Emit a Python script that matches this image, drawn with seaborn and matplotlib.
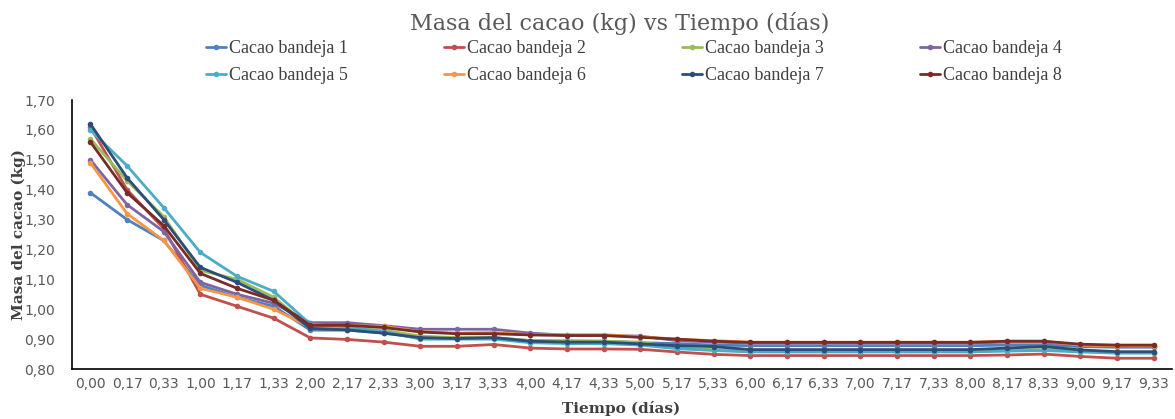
import matplotlib

matplotlib.use("Agg")
import matplotlib.pyplot as plt
import pandas as pd
import seaborn as sns
from matplotlib.ticker import FuncFormatter

sns.set_theme(style="white")

# --- data -----------------------------------------------------------------
tiempo = ["0,00", "0,17", "0,33", "1,00", "1,17", "1,33", "2,00", "2,17", "2,33",
          "3,00", "3,17", "3,33", "4,00", "4,17", "4,33", "5,00", "5,17", "5,33",
          "6,00", "6,17", "6,33", "7,00", "7,17", "7,33", "8,00", "8,17", "8,33",
          "9,00", "9,17", "9,33"]

bandeja_1 = [1.39, 1.30, 1.23, 1.08, 1.04, 1.01,
             0.930, 0.930, 0.920, 0.905, 0.905, 0.905, 0.895, 0.893, 0.893, 0.888,
             0.885, 0.880, 0.878, 0.878, 0.878, 0.878, 0.878, 0.878, 0.878,
             0.880, 0.880, 0.875, 0.873, 0.873]
bandeja_2 = [1.61, 1.40, 1.27, 1.05, 1.01, 0.97,
             0.904, 0.899, 0.890, 0.876, 0.876, 0.882, 0.870, 0.867, 0.867, 0.866,
             0.857, 0.849, 0.845, 0.845, 0.845, 0.845, 0.845, 0.845, 0.845,
             0.847, 0.850, 0.842, 0.836, 0.836]
bandeja_3 = [1.57, 1.43, 1.31, 1.13, 1.10, 1.04,
             0.940, 0.935, 0.930, 0.910, 0.905, 0.905, 0.895, 0.895, 0.893, 0.890,
             0.870, 0.865, 0.860, 0.860, 0.860, 0.860, 0.860, 0.860, 0.860,
             0.862, 0.865, 0.860, 0.855, 0.855]
bandeja_4 = [1.50, 1.35, 1.26, 1.09, 1.05, 1.02,
             0.955, 0.955, 0.945, 0.933, 0.933, 0.933, 0.920, 0.913, 0.912, 0.910,
             0.895, 0.890, 0.887, 0.887, 0.887, 0.887, 0.887, 0.887, 0.887,
             0.890, 0.890, 0.880, 0.878, 0.878]
bandeja_5 = [1.60, 1.48, 1.34, 1.19, 1.11, 1.06,
             0.950, 0.940, 0.925, 0.900, 0.900, 0.900, 0.888, 0.885, 0.885, 0.880,
             0.868, 0.862, 0.857, 0.857, 0.857, 0.857, 0.857, 0.857, 0.857,
             0.860, 0.862, 0.857, 0.853, 0.853]
bandeja_6 = [1.49, 1.32, 1.23, 1.07, 1.04, 1.00,
             0.940, 0.945, 0.943, 0.925, 0.920, 0.922, 0.915, 0.915, 0.915, 0.908,
             0.900, 0.895, 0.890, 0.890, 0.890, 0.890, 0.890, 0.890, 0.890,
             0.893, 0.893, 0.880, 0.878, 0.878]
bandeja_7 = [1.62, 1.44, 1.30, 1.14, 1.09, 1.03,
             0.936, 0.931, 0.920, 0.905, 0.902, 0.905, 0.893, 0.890, 0.890, 0.884,
             0.878, 0.875, 0.865, 0.865, 0.865, 0.865, 0.865, 0.865, 0.865,
             0.870, 0.875, 0.864, 0.858, 0.858]
bandeja_8 = [1.56, 1.39, 1.28, 1.12, 1.07, 1.03,
             0.946, 0.946, 0.939, 0.924, 0.918, 0.918, 0.914, 0.912, 0.912, 0.906,
             0.900, 0.893, 0.889, 0.889, 0.889, 0.889, 0.889, 0.889, 0.889,
             0.893, 0.893, 0.883, 0.880, 0.880]

series = {
    "Cacao bandeja 1": bandeja_1,
    "Cacao bandeja 2": bandeja_2,
    "Cacao bandeja 3": bandeja_3,
    "Cacao bandeja 4": bandeja_4,
    "Cacao bandeja 5": bandeja_5,
    "Cacao bandeja 6": bandeja_6,
    "Cacao bandeja 7": bandeja_7,
    "Cacao bandeja 8": bandeja_8,
}
colors = ["#4F81BD", "#C0504D", "#9BBB59", "#8064A2",
          "#4BACC6", "#F79646", "#2C4D75", "#772C2A"]

rows = []
for name, vals in series.items():
    for i, v in enumerate(vals):
        rows.append({"idx": i, "masa": v, "serie": name})
df = pd.DataFrame(rows)

# --- figure ---------------------------------------------------------------
fig = plt.figure(figsize=(11.75, 4.19), dpi=100)
ax = fig.add_axes([0.0613, 0.1193, 0.9362, 0.642])

sns.lineplot(data=df, x="idx", y="masa", hue="serie", palette=colors,
             marker="o", markersize=4, markeredgewidth=0, linewidth=2, ax=ax)

ax.set_xlim(-0.5, len(tiempo) - 0.5)
ax.set_ylim(0.80, 1.70)
ax.set_xticks(range(len(tiempo)))
ax.set_xticklabels(tiempo)
ax.set_yticks([0.8 + 0.1 * k for k in range(10)])
ax.yaxis.set_major_formatter(FuncFormatter(lambda v, p: f"{v:.2f}".replace(".", ",")))
ax.tick_params(axis="both", length=0, labelsize=10, labelcolor="#595959")
ax.tick_params(axis="x", pad=6)
ax.tick_params(axis="y", pad=12)
for lab in ax.get_xticklabels() + ax.get_yticklabels():
    lab.set_family("DejaVu Sans")

for side in ["top", "right"]:
    ax.spines[side].set_visible(False)
for side in ["left", "bottom"]:
    ax.spines[side].set_color("black")
    ax.spines[side].set_linewidth(1.2)

ax.set_xlabel("")
ax.set_ylabel("")
fig.text(0.529, 0.026, "Tiempo (días)", ha="center", va="center",
         family="DejaVu Serif", weight="bold", fontsize=11, color="#404040")
fig.text(0.016, 0.44, "Masa del cacao (kg)", ha="center", va="center", rotation=90,
         family="DejaVu Serif", weight="bold", fontsize=11, color="#404040")
fig.text(0.527, 0.945, "Masa del cacao (kg) vs Tiempo (días)", ha="center", va="center",
         family="DejaVu Serif", fontsize=16, color="#595959")

# legend: row-wise order (1-4 on top, 5-8 below)
handles, labels = ax.get_legend_handles_labels()
ax.get_legend().remove()
order = [0, 4, 1, 5, 2, 6, 3, 7]
fig.legend([handles[i] for i in order], [labels[i] for i in order], ncol=4,
           loc="center left", bbox_to_anchor=(0.1615, 0.851), frameon=False,
           prop={"family": "Liberation Serif", "size": 13},
           labelcolor="#404040", handlelength=1.1, handletextpad=0.15,
           columnspacing=5.35, labelspacing=0.55)

plt.savefig("out.png", dpi=100)
